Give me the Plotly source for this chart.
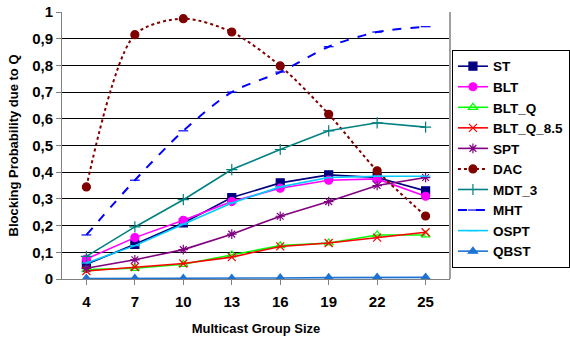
import plotly.graph_objects as go

x_labels = ["4", "7", "10", "13", "16", "19", "22", "25"]

st = [0.055, 0.13, 0.21, 0.305, 0.36, 0.39, 0.38, 0.33]
blt = [0.075, 0.155, 0.22, 0.29, 0.34, 0.37, 0.375, 0.31]
blt_q = [0.035, 0.04, 0.055, 0.09, 0.125, 0.135, 0.165, 0.165]
blt_q85 = [0.03, 0.045, 0.058, 0.082, 0.122, 0.135, 0.155, 0.175]
spt = [0.04, 0.072, 0.11, 0.168, 0.235, 0.29, 0.35, 0.38]
dac = [0.345, 0.915, 0.975, 0.925, 0.798, 0.617, 0.405, 0.236]
mdt3 = [0.085, 0.195, 0.297, 0.41, 0.485, 0.555, 0.585, 0.569]
mht = [0.165, 0.37, 0.555, 0.70, 0.775, 0.87, 0.925, 0.945]
ospt = [0.06, 0.125, 0.205, 0.285, 0.345, 0.38, 0.385, 0.385]
qbst = [0.002, 0.002, 0.002, 0.002, 0.004, 0.005, 0.006, 0.006]

y_ticks = [0, 0.1, 0.2, 0.3, 0.4, 0.5, 0.6, 0.7, 0.8, 0.9, 1]
y_ticktext = ["0", "0,1", "0,2", "0,3", "0,4", "0,5", "0,6", "0,7", "0,8", "0,9", "1"]

series = [
    ("ST", st, "#000080", "square", "solid", "linear", 8),
    ("BLT", blt, "#FF00FF", "circle", "solid", "linear", 8),
    ("BLT_Q", blt_q, "#00FF00", "triangle-up-open", "solid", "linear", 8),
    ("BLT_Q_8.5", blt_q85, "#FF0000", "x-thin-open", "solid", "linear", 8),
    ("SPT", spt, "#800080", "asterisk-open", "solid", "linear", 8),
    ("DAC", dac, "#800000", "circle", "dot", "spline", 8),
    ("MDT_3", mdt3, "#008080", "cross-thin-open", "solid", "linear", 8),
    ("MHT", mht, "#0000FF", "line-ew-open", "dash", "spline", 7),
    ("OSPT", ospt, "#00CCFF", "line-ew-open", "solid", "linear", 7),
    ("QBST", qbst, "#1E73D2", "triangle-up", "solid", "linear", 8),
]

fig = go.Figure()
for name, vals, color, sym, dash, shape, size in series:
    fig.add_trace(go.Scatter(
        x=x_labels, y=vals, name=name, mode="lines+markers",
        line=dict(color=color, width=2 if dash != "solid" else 1.6, dash=dash,
                  shape=shape, smoothing=0.8),
        marker=dict(symbol=sym, size=size, color=color, line=dict(color=color, width=1.2)),
    ))

fig.update_layout(
    width=570, height=340,
    margin=dict(l=62, r=120, t=12, b=61, autoexpand=False),
    paper_bgcolor="white", plot_bgcolor="white",
    font=dict(family="Liberation Sans, Arial, sans-serif", color="black"),
    showlegend=True,
    legend=dict(
        x=1.005, y=0.858, xanchor="left", yanchor="top",
        bordercolor="black", borderwidth=1,
        font=dict(size=13.5, family="Liberation Sans, Arial, sans-serif", color="black", weight="bold"),
        tracegroupgap=0, itemwidth=30,
    ),
    xaxis=dict(
        type="category", showgrid=False, automargin=False,
        showline=True, linecolor="#808080", linewidth=1,
        ticks="outside", ticklen=5, tickcolor="#808080",
        ticklabelstandoff=4,
        tickfont=dict(size=15, weight="bold"),
        title=dict(text="<b>Multicast Group Size</b>", font=dict(size=13), standoff=14),
        mirror=False,
    ),
    yaxis=dict(
        range=[0, 1], tickvals=y_ticks, ticktext=y_ticktext, automargin=False,
        showgrid=True, gridcolor="black", gridwidth=1,
        showline=True, linecolor="#808080", linewidth=1,
        ticks="outside", ticklen=5, tickcolor="#808080",
        tickfont=dict(size=15, weight="bold"),
        title=dict(text="<b>Blocking Probability due to Q</b>", font=dict(size=13), standoff=10),
        zeroline=False,
    ),
    shapes=[
        dict(type="line", xref="paper", yref="paper", x0=1, x1=1, y0=0, y1=1,
             line=dict(color="#A0A0A0", width=2)),
    ],
)

fig.write_html("out.html", config={"displayModeBar": False},
               post_script="document.body.style.margin='0px';")
